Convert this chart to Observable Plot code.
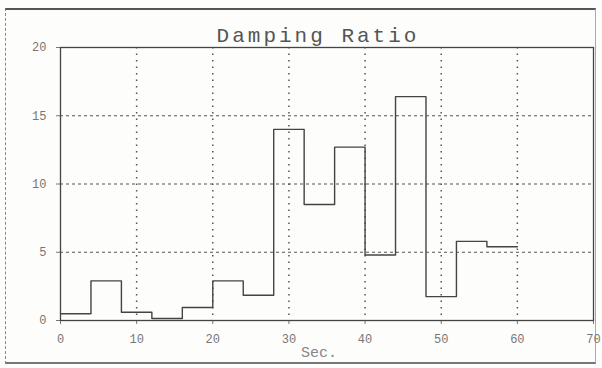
<!DOCTYPE html>
<html>
<head>
<meta charset="utf-8">
<script src="https://cdn.jsdelivr.net/npm/d3@7"></script>
<script src="https://cdn.jsdelivr.net/npm/@observablehq/plot@0.6"></script>
<style>
  html, body { margin: 0; padding: 0; background: #fdfdfb; }
  #wrap { position: relative; width: 602px; height: 368px; overflow: hidden; }
  #border { position: absolute; left: 5px; top: 8px; width: 591px; height: 356px;
    border-top: 2px solid #555; border-left: 1px dashed #888; border-right: 1px solid #aaa; border-bottom: 2px solid #777; box-sizing: border-box; }
  #wrap svg { position: absolute; left: 0; top: 0; }
</style>
</head>
<body>
<div id="wrap"><div id="border"></div></div>
<script>
const title = "Damping Ratio";
const xLabel = "Sec.";
const stepStarts = [0, 4, 8, 12, 16, 20, 24, 28, 32, 36, 40, 44, 48, 52, 56, 60];
const stepValues = [0.5, 2.9, 0.6, 0.15, 0.95, 2.9, 1.85, 14.0, 8.5, 12.7, 4.8, 16.4, 1.75, 5.8, 5.4, 5.4];
const xTicks = [0, 10, 20, 30, 40, 50, 60, 70];
const yTicks = [0, 5, 10, 15, 20];
const xGrid = [10, 20, 30, 40, 50, 60];
const yGrid = [5, 10, 15];

const data = stepStarts.map((t, i) => ({t, v: stepValues[i]}));
const font = "Liberation Mono, DejaVu Sans Mono, monospace";

const chart = Plot.plot({
  width: 602,
  height: 368,
  marginLeft: 60,
  marginRight: 9,
  marginTop: 47,
  marginBottom: 48,
  style: {background: "transparent", fontFamily: font, fontSize: "12px", color: "#777"},
  x: {domain: [0, 70], ticks: xTicks, label: null, tickSize: 4, tickPadding: 10},
  y: {domain: [0, 20], ticks: yTicks, label: null, tickSize: 4, tickPadding: 10},
  marks: [
    Plot.ruleX(xGrid, {stroke: "#555", strokeDasharray: "1.5,5", strokeWidth: 1.5}),
    Plot.ruleY(yGrid, {stroke: "#555", strokeDasharray: "3,3", strokeWidth: 1}),
    Plot.frame({stroke: "#444", strokeWidth: 1.3}),
    Plot.lineY(data, {x: "t", y: "v", curve: "step-after", stroke: "#444", strokeWidth: 1.4}),
    Plot.text([title], {frameAnchor: "top", dy: -20, dx: -9, text: d => d, fontSize: 21, fill: "#555", fontFamily: font}),
    Plot.text([xLabel], {frameAnchor: "bottom", dy: 36, dx: -8, text: d => d, fontSize: 15, fill: "#888", fontFamily: font})
  ]
});
d3.select(chart).selectAll("text").filter(function() { return this.textContent === title; })
  .style("letter-spacing", "3px");
document.getElementById("wrap").appendChild(chart);
</script>
</body>
</html>
